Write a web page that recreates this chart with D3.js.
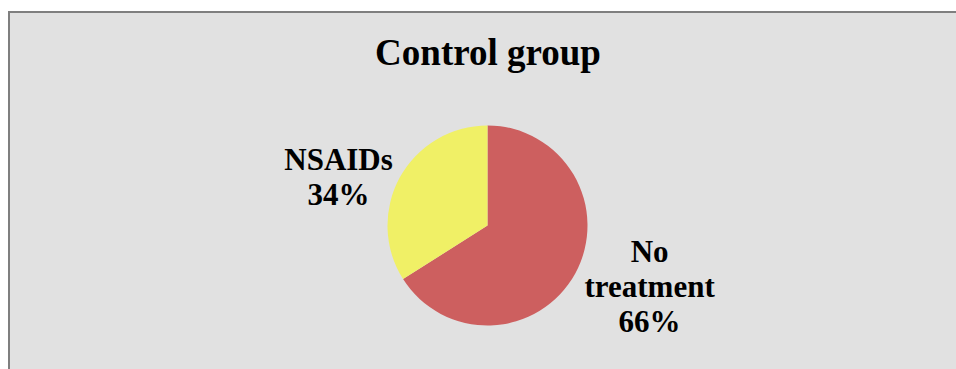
<!DOCTYPE html>
<html>
<head>
<meta charset="utf-8">
<script src="https://cdn.jsdelivr.net/npm/d3@7"></script>
<style>
  html, body { margin: 0; padding: 0; background: #ffffff; }
  svg { display: block; }
</style>
</head>
<body>
<svg id="chart" width="956" height="369"></svg>
<script>
// Treatment shares in the control group
const categories = ["No treatment", "NSAIDs"];
const values = [66, 34];
const colors = ["#cd5f5f", "#f0f066"];
const labelLines = [["No", "treatment", "66%"], ["NSAIDs", "34%"]];

const svg = d3.select("#chart");
const W = 956, H = 369;

// Chart area with a grey fill and a darker frame on top and left
svg.append("rect")
  .attr("x", 8).attr("y", 11).attr("width", W - 8).attr("height", H - 11)
  .attr("fill", "#e1e1e1");
svg.append("path")
  .attr("d", `M9,${H} V12 H${W}`)
  .attr("fill", "none").attr("stroke", "#7f7f7f").attr("stroke-width", 2);

const serif = "'Liberation Serif', 'Times New Roman', serif";

svg.append("text")
  .attr("x", 488).attr("y", 65)
  .attr("text-anchor", "middle")
  .style("font-family", serif)
  .style("font-weight", "bold")
  .style("font-size", "37px")
  .attr("fill", "#000")
  .text("Control group");

const cx = 487.5, cy = 225.5, r = 100;
const pie = d3.pie().sort(null).value(d => d.value);
const arc = d3.arc().innerRadius(0).outerRadius(r);
const data = categories.map((c, i) => ({ name: c, value: values[i], color: colors[i], lines: labelLines[i] }));

const g = svg.append("g").attr("transform", `translate(${cx},${cy})`);
const arcs = pie(data);
g.selectAll("path.slice")
  .data(arcs)
  .join("path")
  .attr("class", "slice")
  .attr("d", arc)
  .attr("fill", d => d.data.color);

// Labels outside the pie along each slice's mid-angle, nudged vertically
const labelRadius = [1.85 * r, 1.70 * r];
const labelDy = [-28, 34];
const lineH = 35;
arcs.forEach((a, i) => {
  const la = d3.arc().innerRadius(labelRadius[i]).outerRadius(labelRadius[i]);
  const [lx, ly] = la.centroid(a);
  const n = a.data.lines.length;
  const t = g.append("text")
    .attr("text-anchor", "middle")
    .style("font-family", serif)
    .style("font-weight", "bold")
    .style("font-size", "31px")
    .attr("fill", "#000");
  a.data.lines.forEach((s, k) => {
    t.append("tspan")
      .attr("x", lx)
      .attr("y", ly + labelDy[i] + (k - (n - 1) / 2) * lineH + 10)
      .text(s);
  });
});
</script>
</body>
</html>
